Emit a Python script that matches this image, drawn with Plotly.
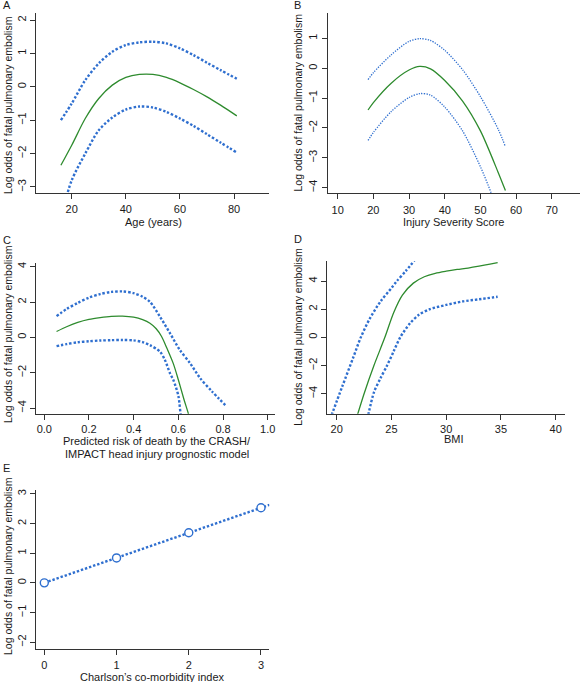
import plotly.graph_objects as go

W, H = 580, 682
BLUE = "#2f6fcf"
GREEN = "#2e8b2e"
AX = "#333333"
FONT = "Liberation Sans, Arial, sans-serif"

# ---------- Panel A: Age ----------
a_x_mid = [16, 20, 25, 30, 35, 40, 45, 50, 55, 60, 65, 70, 75, 81]
a_mid = [-2.35, -1.75, -0.95, -0.35, 0.05, 0.28, 0.37, 0.37, 0.28, 0.12, -0.08, -0.3, -0.55, -0.87]
a_up = [-1.0, -0.5, 0.2, 0.7, 1.05, 1.25, 1.33, 1.35, 1.3, 1.15, 0.95, 0.72, 0.5, 0.24]
a_lo = [-3.9, -2.8, -2.0, -1.3, -0.92, -0.68, -0.59, -0.62, -0.75, -0.95, -1.17, -1.42, -1.67, -1.97]

# ---------- Panel B: ISS ----------
b_x = [18.5, 20, 25, 30, 33, 36, 40, 45, 50, 55, 57]
b_mid = [-1.4, -1.15, -0.5, -0.06, 0.06, -0.02, -0.41, -1.1, -2.1, -3.5, -4.1]
b_up = [-0.38, -0.15, 0.45, 0.9, 0.99, 0.93, 0.6, -0.05, -0.95, -2.05, -2.63]
b_lo_x = [18.5, 20, 25, 30, 33, 36, 40, 45, 50, 53, 55]
b_lo = [-2.42, -2.15, -1.45, -0.98, -0.85, -0.9, -1.3, -2.1, -3.3, -4.18, -4.9]

# ---------- Panel C: CRASH/IMPACT risk ----------
c_mid_x = [0.055, 0.1, 0.15, 0.2, 0.25, 0.3, 0.35, 0.4, 0.44, 0.473, 0.5, 0.525, 0.55, 0.578, 0.6, 0.625, 0.645, 0.66]
c_mid = [0.33, 0.6, 0.85, 1.02, 1.12, 1.19, 1.2, 1.14, 1.0, 0.8, 0.5, 0.05, -0.65, -1.5, -2.4, -3.5, -4.32, -5.0]
c_up_x = [0.055, 0.1, 0.15, 0.2, 0.25, 0.3, 0.35, 0.4, 0.44, 0.473, 0.518, 0.563, 0.607, 0.652, 0.697, 0.75, 0.81]
c_up = [1.2, 1.6, 1.95, 2.25, 2.45, 2.57, 2.6, 2.5, 2.3, 2.01, 1.17, 0.23, -0.72, -1.45, -2.3, -3.05, -3.83]
c_lo_x = [0.055, 0.1, 0.15, 0.2, 0.25, 0.3, 0.35, 0.4, 0.44, 0.473, 0.518, 0.54, 0.563, 0.578, 0.6, 0.61, 0.62]
c_lo = [-0.5, -0.38, -0.28, -0.22, -0.18, -0.16, -0.15, -0.17, -0.27, -0.44, -0.81, -1.28, -2.04, -2.42, -3.3, -4.3, -5.0]

# ---------- Panel D: BMI ----------
d_mid_x = [21.7, 22.5, 23.4, 24.4, 25.2, 26.0, 27.0, 28.0, 29.0, 30.0, 31.0, 32.0, 33.0, 34.0, 34.7]
d_mid = [-6.0, -4.0, -2.0, 0.0, 1.75, 3.0, 3.85, 4.3, 4.55, 4.7, 4.82, 4.92, 5.05, 5.2, 5.3]
d_up_x = [19.4, 20.5, 21.5, 22.2, 23.0, 24.0, 25.0, 25.5, 26.3, 27.1]
d_up = [-5.8, -3.5, -1.45, 0.0, 1.3, 2.55, 3.5, 4.0, 4.7, 5.45]
d_lo_x = [22.8, 23.4, 24.0, 24.6, 25.2, 25.8, 26.7, 27.5, 28.5, 30.0, 31.5, 33.0, 34.7]
d_lo = [-5.8, -3.9, -2.9, -2.0, -1.0, 0.0, 1.0, 1.6, 2.0, 2.3, 2.55, 2.7, 2.88]

# ---------- Panel E: Charlson ----------
e_x = [0, 1, 2, 3]
e_y = [0.0, 0.84, 1.69, 2.53]
e_fit_x = [0, 3.12]
e_fit_y = [0.0, 2.63]

# Ticks
a_xticks = [20, 40, 60, 80]
a_yticks = [-3, -2, -1, 0, 1, 2]
b_xticks = [10, 20, 30, 40, 50, 60, 70]
b_yticks = [-4, -3, -2, -1, 0, 1]
c_xticks = [0.0, 0.2, 0.4, 0.6, 0.8, 1.0]
c_yticks = [-4, -2, 0, 2, 4]
d_xticks = [20, 25, 30, 35, 40]
d_yticks = [-4, -2, 0, 2, 4]
e_xticks = [0, 1, 2, 3]
e_yticks = [-2, -1, 0, 1, 2, 3]

YTITLE = "Log odds of fatal pulmonary embolism"

fig = go.Figure()

thick_dot = dict(color=BLUE, width=2.4, dash="2.4px,1.9px")
thin_dot = dict(color=BLUE, width=1.3, dash="1.3px,1.3px")
green_line = dict(color=GREEN, width=1.3)


def add(x, y, line, ax, shape="spline"):
    fig.add_trace(go.Scatter(x=x, y=y, mode="lines", line=dict(**line, shape=shape, smoothing=0.8),
                             xaxis="x" + ax, yaxis="y" + ax, showlegend=False, hoverinfo="skip"))


# A
add(a_x_mid, a_up, thick_dot, "")
add(a_x_mid, a_lo, thick_dot, "")
add(a_x_mid, a_mid, green_line, "")
# B
add(b_x, b_up, thin_dot, "2")
add(b_lo_x, b_lo, thin_dot, "2")
add(b_x, b_mid, green_line, "2")
# C
add(c_up_x, c_up, thick_dot, "3")
add(c_lo_x, c_lo, thick_dot, "3")
add(c_mid_x, c_mid, green_line, "3")
# D
add(d_up_x, d_up, thick_dot, "4")
add(d_lo_x, d_lo, thick_dot, "4")
add(d_mid_x, d_mid, green_line, "4")
# E
fig.add_trace(go.Scatter(x=e_fit_x, y=e_fit_y, mode="lines", line=thick_dot,
                         xaxis="x5", yaxis="y5", showlegend=False, hoverinfo="skip"))
fig.add_trace(go.Scatter(x=e_x, y=e_y, mode="markers",
                         marker=dict(size=8, color="white", line=dict(color=BLUE, width=1.4)),
                         xaxis="x5", yaxis="y5", showlegend=False, hoverinfo="skip"))


def px_x(v):
    return v / W


def px_y(v):
    return 1 - v / H


common = dict(showline=True, linecolor=AX, linewidth=1, ticks="outside", ticklen=5, tickwidth=1,
              tickcolor=AX, showgrid=False, zeroline=False, mirror=False,
              tickfont=dict(family=FONT, size=11, color="#1a1a1a"))

panels = [
    # suffix, xdom px, ydom px (top,bottom), xrange, yrange, xticks, yticks, xfmt, x label standoff
    ("", (36, 269), (13, 193), (6.8, 92.9), (-3.18, 2.21), a_xticks, a_yticks, None, 1),
    ("2", (327.7, 580), (13, 193), (7.2, 77.9), (-4.18, 1.85), b_xticks, b_yticks, None, 2),
    ("3", (36, 275.3), (263.3, 413.7), (-0.037, 1.034), (-4.32, 4.19), c_xticks, c_yticks, ".1f", 0),
    ("4", (327.3, 565.3), (261, 413.7), (19.14, 40.88), (-5.42, 5.42), d_xticks, d_yticks, None, 0),
    ("5", (36, 269.3), (490, 649.3), (-0.115, 3.115), (-2.24, 3.13), e_xticks, e_yticks, None, 0),
]

layout = dict(width=W, height=H, margin=dict(l=0, r=0, t=0, b=0),
              paper_bgcolor="white", plot_bgcolor="white", showlegend=False,
              font=dict(family=FONT, size=11, color="#1a1a1a"))

for suf, xd, yd, xr, yr, xt, yt, xfmt, so in panels:
    xa = dict(common, domain=[px_x(xd[0]), px_x(xd[1])], range=list(xr), tickvals=xt,
              anchor="y" + suf, ticklabelstandoff=so)
    if xfmt:
        xa["tickformat"] = xfmt
    ya = dict(common, domain=[px_y(yd[1]), px_y(yd[0])], range=list(yr), tickvals=yt,
              anchor="x" + suf, tickangle=-90)
    layout["xaxis" + suf] = xa
    layout["yaxis" + suf] = ya

fig.update_layout(**layout)

ann = []


def text(s, x, y, angle=0, xanchor="center", size=11):
    ann.append(dict(text=s, x=px_x(x), y=px_y(y), xref="paper", yref="paper", showarrow=False,
                    textangle=angle, xanchor=xanchor, yanchor="middle",
                    font=dict(family=FONT, size=size, color="#1a1a1a")))


# panel letters
text("A", 1, 5, xanchor="left")
text("B", 292, 5, xanchor="left")
text("C", 1, 240, xanchor="left")
text("D", 292, 239, xanchor="left")
text("E", 1, 468, xanchor="left")
# y titles
text(YTITLE, 8, 105, angle=-90, size=10.5)
text(YTITLE, 298, 102.5, angle=-90, size=10.5)
text(YTITLE, 8, 334, angle=-90, size=10.5)
text(YTITLE, 298, 336.7, angle=-90, size=10.5)
text(YTITLE, 8, 566, angle=-90, size=10.5)
# x titles
text("Age (years)", 153, 222)
text("Injury Severity Score", 453, 222)
text("Predicted risk of death by the CRASH/", 156.5, 441)
text("IMPACT head injury prognostic model", 156.5, 454)
text("BMI", 454, 439)
text("Charlson\u2019s co-morbidity index", 152.5, 676.5)

fig.update_layout(annotations=ann)
fig.write_html("out.html", config={"displayModeBar": False},
               post_script="document.body.style.margin='0';document.body.style.padding='0';")
